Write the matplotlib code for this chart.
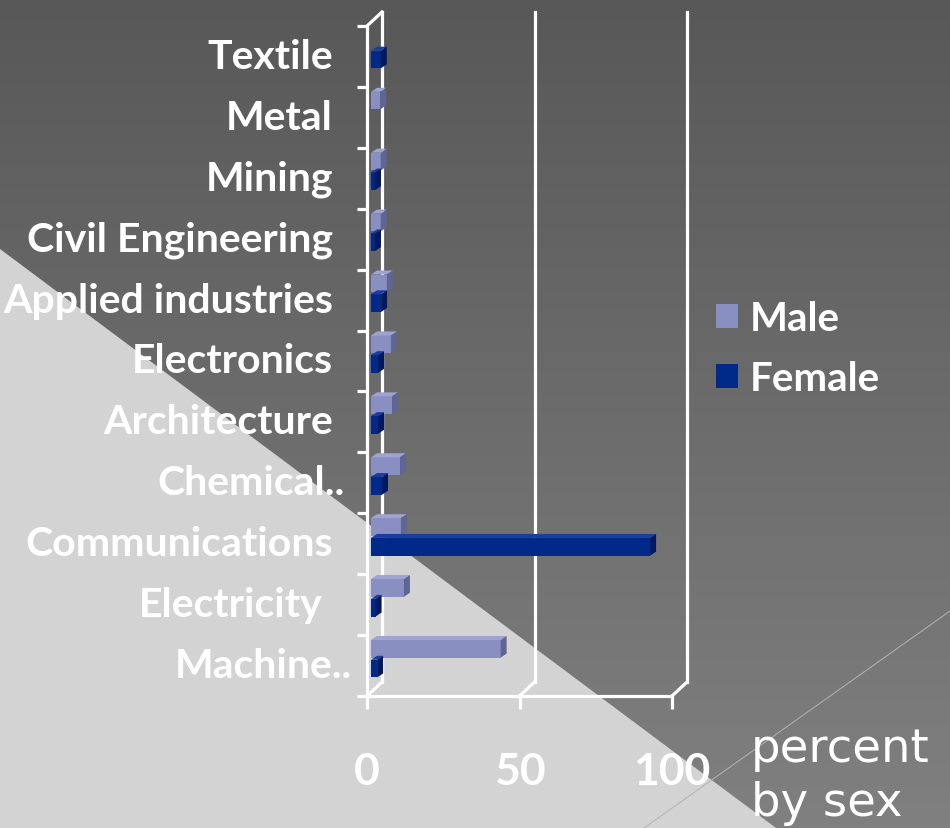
import matplotlib
matplotlib.use('Agg')
import matplotlib.pyplot as plt
import numpy as np
from matplotlib.patches import Polygon, Patch
from matplotlib.colors import LinearSegmentedColormap

# ---------------- data ----------------
categories = ["Machine..", "Electricity", "Communications", "Chemical..",
              "Architecture", "Electronics", "Applied industries",
              "Civil Engineering", "Mining", "Metal", "Textile"]
male = [42.5, 10.8, 9.8, 9.5, 6.9, 6.6, 5.2, 3.2, 3.2, 3.0, 0.0]
female = [2.0, 1.5, 91.5, 3.6, 2.3, 2.3, 3.3, 1.3, 1.3, 0.0, 3.2]
xtick_values = [0, 50, 100]
series = ["Male", "Female"]

# ---------------- style ----------------
W, H = 950, 829
male_front, male_top, male_side = '#8a8fc2', '#9ea3d0', '#5f6595'
fem_front, fem_top, fem_side = '#00298a', '#1a3d9e', '#001860'
label_shift = {"Machine..": 19, "Chemical..": 12, "Electricity": -11}
LBL = dict(family=['Lato', 'DejaVu Sans'], weight='bold', color='white')

fig = plt.figure(figsize=(W / 100, H / 100), dpi=100)

# background
bg = fig.add_axes([0, 0, 1, 1], zorder=0)
bg.set_xlim(0, W); bg.set_ylim(H, 0); bg.axis('off')
grad = np.linspace(0, 1, 256).reshape(-1, 1)
cmap = LinearSegmentedColormap.from_list('g', ['#585858', '#808080'])
bg.imshow(grad, extent=[0, W, H, 0], cmap=cmap, aspect='auto')
bg.add_patch(Polygon([(0, 250), (776, H), (0, H)], closed=True,
                     facecolor='#d3d3d3', edgecolor='none'))
bg.plot([644, W], [H, 612], color='#b4b4b4', lw=0.7)

# main axes
ax = fig.add_axes([367 / W, 1 - 697 / H, 305 / W, 670 / H], zorder=2)
ax.patch.set_alpha(0)
ax.set_xlim(0, 100)
ax.set_ylim(-0.5, len(categories) - 0.5)
for s in ax.spines.values():
    s.set_visible(False)

px_x = 100 / 305.0   # data units per pixel (x)
px_y = 11 / 670.0    # data units per pixel (y)
wdx, wdy = 15 * px_x, 14 * px_y
top_y = len(categories) - 0.5
LW = 2.3
wall = dict(color='white', lw=LW, clip_on=False, solid_capstyle='projecting', zorder=1)
ax.plot([0, 0], [-0.5, top_y], **wall)
ax.plot([0, wdx], [top_y, top_y + wdy], **wall)
for xv in xtick_values:
    ax.plot([xv + wdx, xv + wdx], [-0.5 + wdy, top_y + wdy], **wall)
    ax.plot([xv, xv + wdx], [-0.5, -0.5 + wdy], **wall)
ax.plot([0, 100], [-0.5, -0.5], **wall)

# bars
y = np.arange(len(categories))
h = 0.29
base = 4 * px_x
dx, dy = 6 * px_x, 4 * px_y
bm = ax.barh(y + 0.275, male, height=h, left=base, color=male_front, zorder=3)
bf = ax.barh(y - 0.05, female, height=h, left=base, color=fem_front, zorder=5)


def faces(bars, top_c, side_c, z):
    for r in bars:
        if r.get_width() <= 0:
            continue
        x0 = r.get_x(); x1 = x0 + r.get_width()
        yb = r.get_y(); yt = yb + r.get_height()
        ax.add_patch(Polygon([(x0, yt), (x1, yt), (x1 + dx, yt + dy), (x0 + dx, yt + dy)],
                             closed=True, facecolor=top_c, edgecolor='none', zorder=z))
        ax.add_patch(Polygon([(x1, yb), (x1 + dx, yb + dy), (x1 + dx, yt + dy), (x1, yt)],
                             closed=True, facecolor=side_c, edgecolor='none', zorder=z))


faces(bm, male_top, male_side, 3)
faces(bf, fem_top, fem_side, 5)

# y ticks (boundaries) and labels
ax.set_yticks(np.arange(-0.5, len(categories), 1.0))
ax.set_yticklabels([])
ax.tick_params(axis='y', length=7.2, width=LW, color='white', direction='out')
for i, lab in enumerate(categories):
    sh = label_shift.get(lab, 0)
    ax.text(-(34 - sh) / 305.0, i, lab, transform=ax.get_yaxis_transform(),
            ha='right', va='center', fontsize=29.5, **LBL)

# x ticks
ax.set_xticks(xtick_values)
ax.set_xticklabels([str(v) for v in xtick_values], fontsize=32,
                   fontfamily=['Lato', 'DejaVu Sans'], fontweight='bold', color='white')
ax.tick_params(axis='x', length=9.4, width=LW, color='white', direction='out', pad=30)

# legend
fig.legend(handles=[Patch(facecolor=male_front), Patch(facecolor=fem_front)],
           labels=series, loc='upper left', bbox_to_anchor=(716 / W, 1 - 301 / H),
           frameon=False, prop=dict(family=['Lato', 'DejaVu Sans'], weight='bold', size=29),
           labelcolor='white', handlelength=0.55, handleheight=0.55,
           handletextpad=0.3, labelspacing=0.58, borderpad=0, borderaxespad=0)

# axis title
TT = dict(family=['DejaVu Sans'], weight='normal', color='white', fontsize=33.5)
fig.text(751 / W, 1 - 762 / H, "percent", va='baseline', ha='left', **TT)
fig.text(751 / W, 1 - 816 / H, "by sex", va='baseline', ha='left', **TT)

fig.savefig('out.png', dpi=100)
